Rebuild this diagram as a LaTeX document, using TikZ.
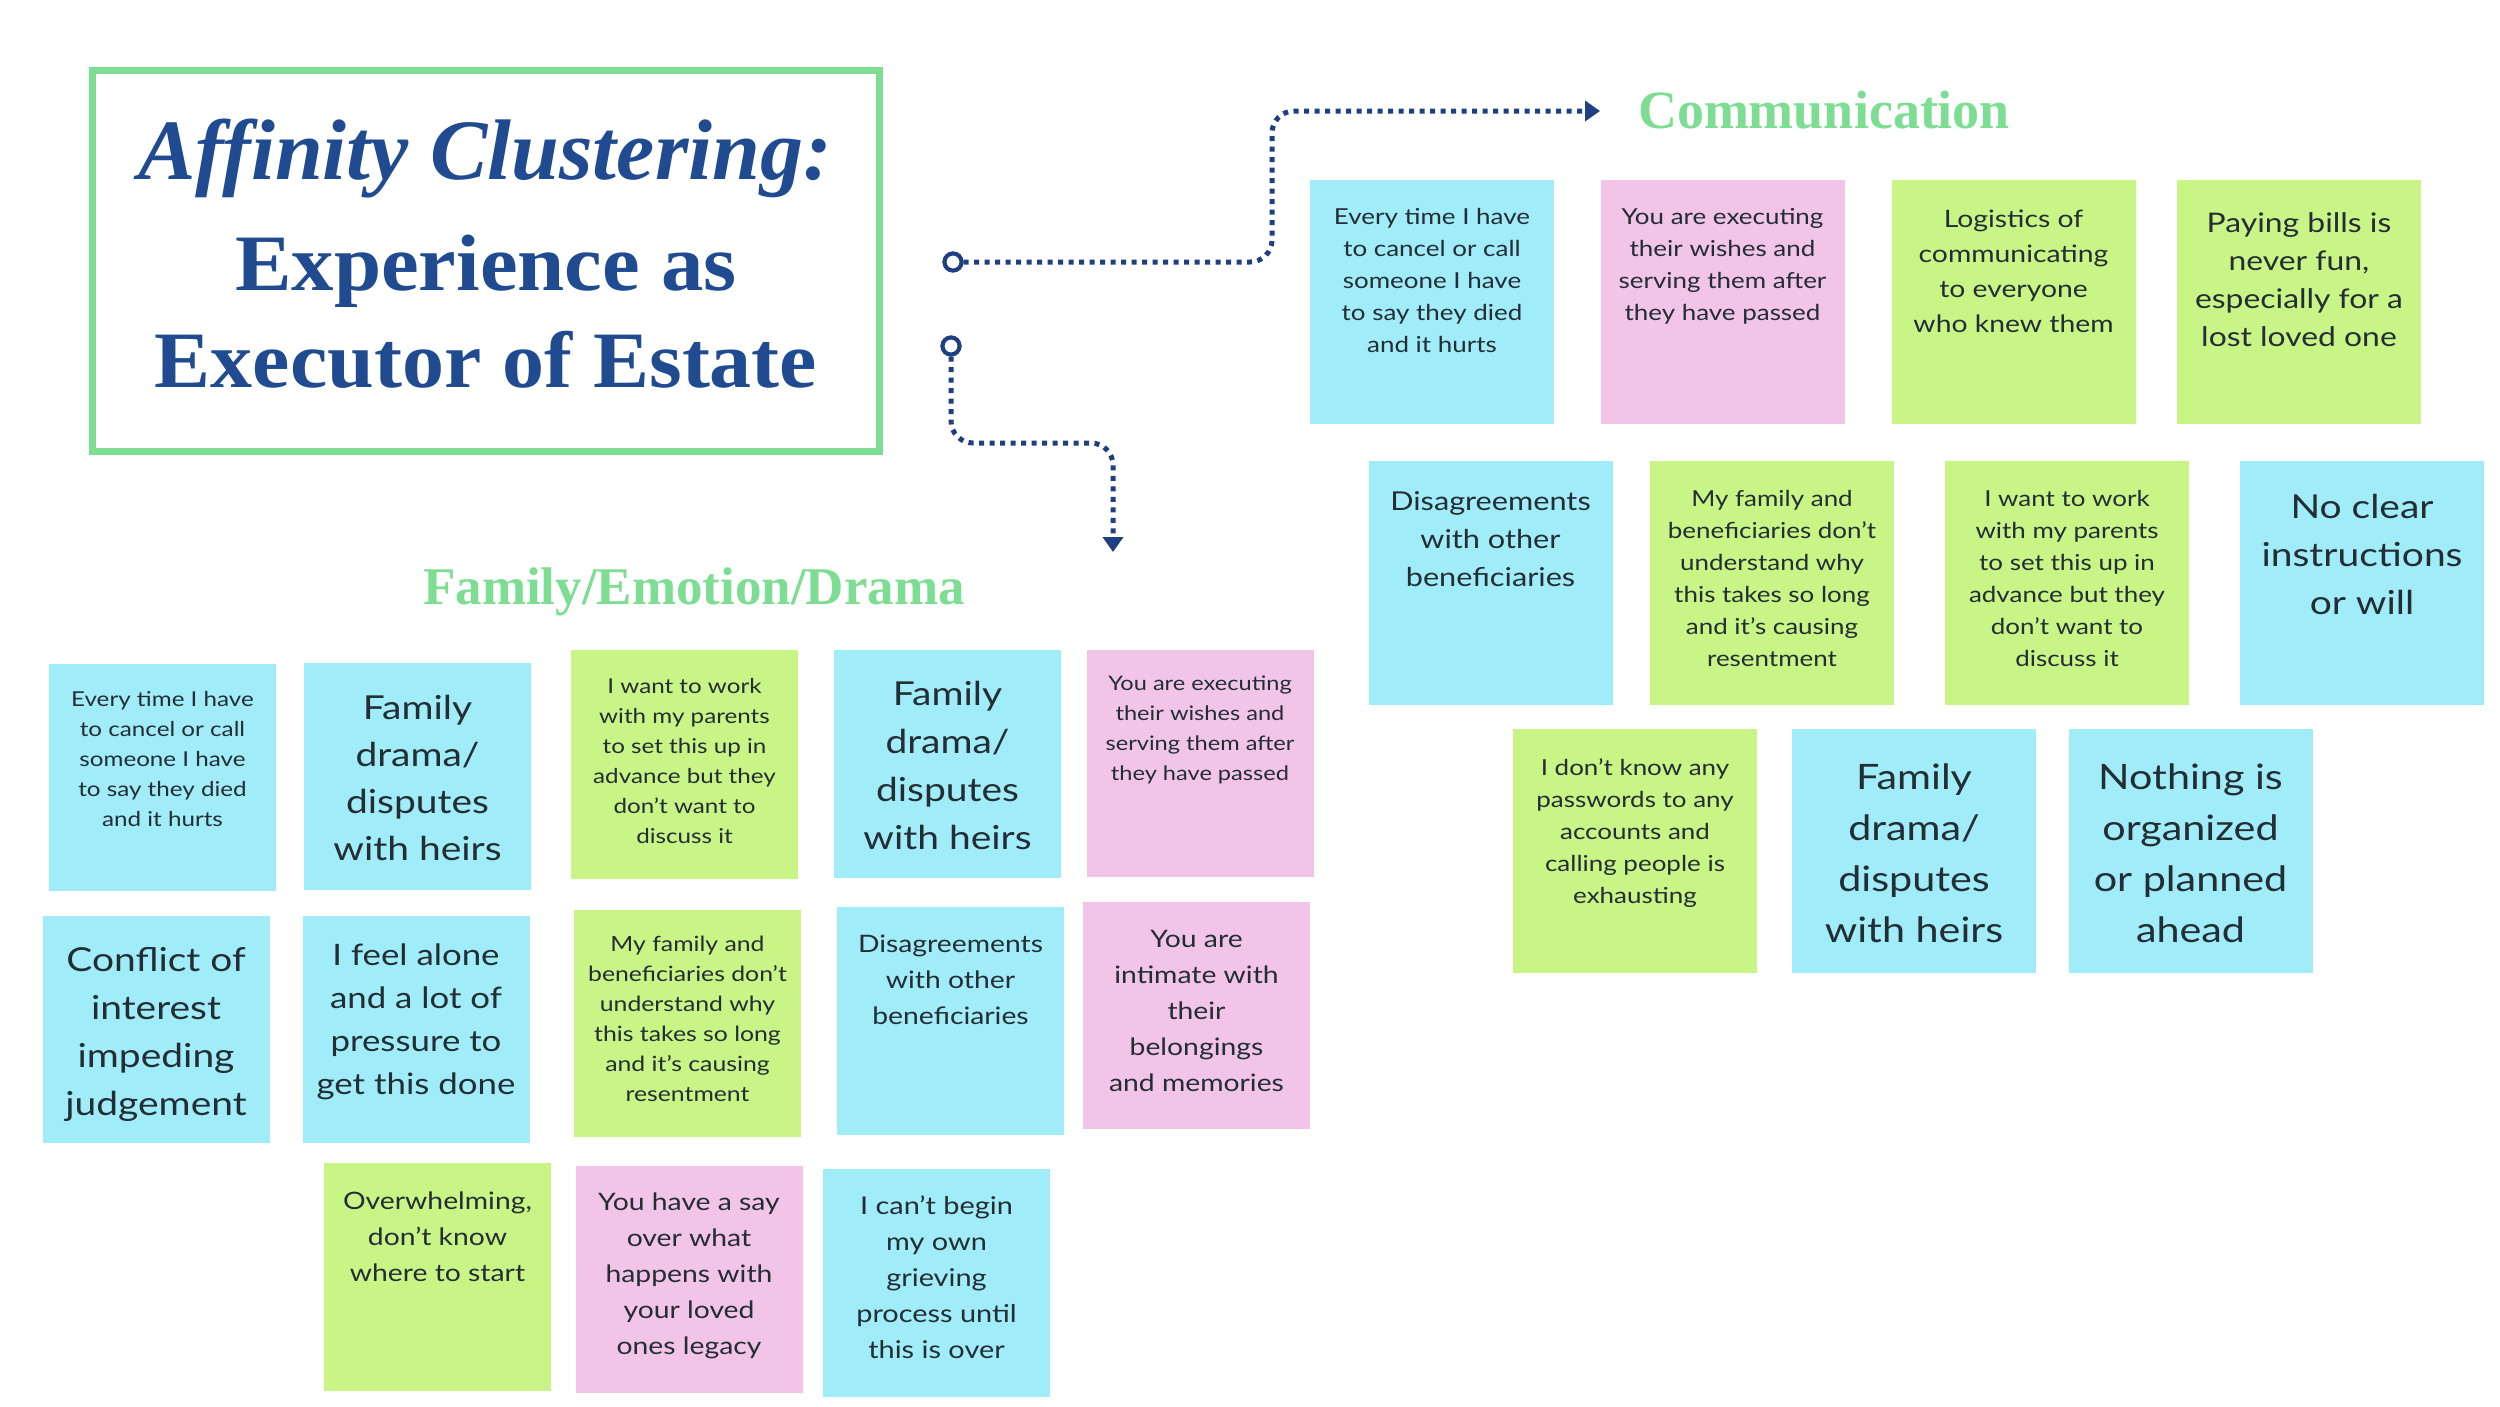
\documentclass[tikz,border=0pt]{standalone}
\usepackage{fontspec}
\usepackage{graphicx}
\setmainfont{Lato}[FakeStretch=1.18]
\newfontfamily\serifttl{Liberation Serif}
\usetikzlibrary{arrows.meta}
\definecolor{navy}{RGB}{33,75,145}
\definecolor{linknavy}{RGB}{30,64,128}
\definecolor{hdrgreen}{RGB}{125,222,147}
\definecolor{nblue}{RGB}{160,236,249}
\definecolor{npink}{RGB}{241,196,232}
\definecolor{ngreen}{RGB}{201,245,134}
\definecolor{ntext}{RGB}{35,45,52}
\newcommand\nfs[2]{\fontsize{#1pt}{#2pt}\selectfont}
\tikzset{
  cnote/.style={rectangle, inner sep=0pt, outer sep=0pt, minimum width=244pt, minimum height=244pt},
  fnote/.style={rectangle, inner sep=0pt, outer sep=0pt, minimum width=227pt, minimum height=227pt},
  ntxt/.style={align=center, inner sep=0pt, text=ntext, anchor=north},
  link/.style={draw=linknavy, line width=5pt, dash pattern=on 5pt off 5.5pt, rounded corners=22pt},
  ring/.style={circle, draw=linknavy, line width=4pt, minimum size=17pt, inner sep=0pt, fill=white},
  ttl/.style={text=navy, anchor=base, inner sep=0pt},
  hdr/.style={text=hdrgreen, anchor=base, inner sep=0pt, font=\serifttl\bfseries},
}
\begin{document}
\begin{tikzpicture}[x=1pt,y=-1pt]
\useasboundingbox (0,0) rectangle (2500,1406);
\fill[white] (0,0) rectangle (2500,1406);

% title box
\node[draw=hdrgreen, line width=7pt, minimum width=787pt, minimum height=381pt, inner sep=0pt] (title) at (486,261) {};
\node[ttl, font=\serifttl\bfseries\itshape\nfs{86}{90}] (t1) at (485,179) {Affinity Clustering:};
\node[ttl, font=\serifttl\bfseries\nfs{80}{84}] (t2) at (486,290) {\scalebox{1.06}[1]{Experience as}};
\node[ttl, font=\serifttl\bfseries\nfs{80}{84}] (t3) at (486,387) {\scalebox{1.05}[1]{Executor of Estate}};

% headers
\node[hdr, font=\serifttl\bfseries\nfs{54}{58}] (h1) at (1824,128) {Communication};
\node[hdr, font=\serifttl\bfseries\nfs{53}{57}] (h2) at (694,604) {Family/Emotion/Drama};

% connectors
\node[ring] (o1) at (953,262) {};
\node[ring] (o2) at (951,346) {};
\coordinate (a1) at (1600,111);
\coordinate (a2) at (1113,552);
\draw[link, -{Triangle[length=15pt,width=20pt]}] (o1.east) -- (1272,262) -- (1272,111) -- (a1);
\draw[link, -{Triangle[length=15pt,width=20pt]}] (o2.south) -- (951,443) -- (1113,443) -- (a2);
\node[ring] at (o1) {};
\node[ring] at (o2) {};

% communication notes
\node[cnote, fill=nblue] (c1) at (1432,302) {};
\node[cnote, fill=npink] (c2) at (1722.5,302) {};
\node[cnote, fill=ngreen] (c3) at (2013.5,302) {};
\node[cnote, fill=ngreen] (c4) at (2299,302) {};
\node[cnote, fill=nblue] (c5) at (1490.5,582.5) {};
\node[cnote, fill=ngreen] (c6) at (1772,582.5) {};
\node[cnote, fill=ngreen] (c7) at (2067,582.5) {};
\node[cnote, fill=nblue] (c8) at (2362,582.5) {};
\node[cnote, fill=ngreen] (c9) at (1635,851) {};
\node[cnote, fill=nblue] (c10) at (1914,851) {};
\node[cnote, fill=nblue] (c11) at (2190.5,851) {};

\node[ntxt, font=\nfs{22}{32}] (c1t) at (1432,208) {Every time I have\\to cancel or call\\someone I have\\to say they died\\and it hurts};
\node[ntxt, font=\nfs{22}{32}] (c2t) at (1722.5,208) {You are executing\\their wishes and\\serving them after\\they have passed};
\node[ntxt, font=\nfs{24}{35}] (c3t) at (2013.5,210) {Logistics of\\communicating\\to everyone\\who knew them};
\node[ntxt, font=\nfs{27}{38}] (c4t) at (2299,212) {Paying bills is\\never fun,\\especially for a\\lost loved one};
\node[ntxt, font=\nfs{26}{38}] (c5t) at (1490.5,491) {Disagreements\\with other\\beneficiaries};
\node[ntxt, font=\nfs{22}{32}] (c6t) at (1772,490) {My family and\\beneficiaries don't\\understand why\\this takes so long\\and it's causing\\resentment};
\node[ntxt, font=\nfs{22}{32}] (c7t) at (2067,490) {I want to work\\with my parents\\to set this up in\\advance but they\\don't want to\\discuss it};
\node[ntxt, font=\nfs{33}{48}] (c8t) at (2362,494) {No clear\\instructions\\or will};
\node[ntxt, font=\nfs{22}{32}] (c9t) at (1635,758) {I don't know any\\passwords to any\\accounts and\\calling people is\\exhausting};
\node[ntxt, font=\nfs{35}{51}] (c10t) at (1914,764) {Family\\drama/\\disputes\\with heirs};
\node[ntxt, font=\nfs{35}{51}] (c11t) at (2190.5,764) {Nothing is\\organized\\or planned\\ahead};

% family notes
\node[fnote, fill=nblue] (f1) at (162.5,777) {};
\node[fnote, fill=nblue] (f2) at (417.5,776) {};
\node[fnote, fill=ngreen, minimum height=229pt] (f3) at (684.5,764.5) {};
\node[fnote, fill=nblue, minimum height=228pt] (f4) at (947.5,764) {};
\node[fnote, fill=npink] (f5) at (1200,763.5) {};
\node[fnote, fill=nblue] (f6) at (156,1029) {};
\node[fnote, fill=nblue] (f7) at (416,1029) {};
\node[fnote, fill=ngreen] (f8) at (687.5,1023.5) {};
\node[fnote, fill=nblue, minimum height=228pt] (f9) at (950.5,1021) {};
\node[fnote, fill=npink] (f10) at (1196.5,1015.5) {};
\node[fnote, fill=ngreen, minimum height=228pt] (f11) at (437.5,1277) {};
\node[fnote, fill=npink] (f12) at (689,1279) {};
\node[fnote, fill=nblue, minimum height=228pt] (f13) at (936.5,1283) {};

\node[ntxt, font=\nfs{20.5}{30}] (f1t) at (162.5,691) {Every time I have\\to cancel or call\\someone I have\\to say they died\\and it hurts};
\node[ntxt, font=\nfs{33}{47}] (f2t) at (417.5,695) {Family\\drama/\\disputes\\with heirs};
\node[ntxt, font=\nfs{20.5}{30}] (f3t) at (684.5,678) {I want to work\\with my parents\\to set this up in\\advance but they\\don't want to\\discuss it};
\node[ntxt, font=\nfs{33}{48}] (f4t) at (947.5,681) {Family\\drama/\\disputes\\with heirs};
\node[ntxt, font=\nfs{20}{30}] (f5t) at (1200,676) {You are executing\\their wishes and\\serving them after\\they have passed};
\node[ntxt, font=\nfs{33}{48}] (f6t) at (156,947) {Conflict of\\interest\\impeding\\judgement};
\node[ntxt, font=\nfs{29.5}{43}] (f7t) at (416,944) {I feel alone\\and a lot of\\pressure to\\get this done};
\node[ntxt, font=\nfs{21}{30}] (f8t) at (687.5,936) {My family and\\beneficiaries don't\\understand why\\this takes so long\\and it's causing\\resentment};
\node[ntxt, font=\nfs{24}{36}] (f9t) at (950.5,935) {Disagreements\\with other\\beneficiaries};
\node[ntxt, font=\nfs{24}{36}] (f10t) at (1196.5,930) {You are\\intimate with\\their\\belongings\\and memories};
\node[ntxt, font=\nfs{24}{36}] (f11t) at (437.5,1192) {Overwhelming,\\don't know\\where to start};
\node[ntxt, font=\nfs{24}{36}] (f12t) at (689,1193) {You have a say\\over what\\happens with\\your loved\\ones legacy};
\node[ntxt, font=\nfs{24.5}{36}] (f13t) at (936.5,1196) {I can't begin\\my own\\grieving\\process until\\this is over};
\end{tikzpicture}
\end{document}
